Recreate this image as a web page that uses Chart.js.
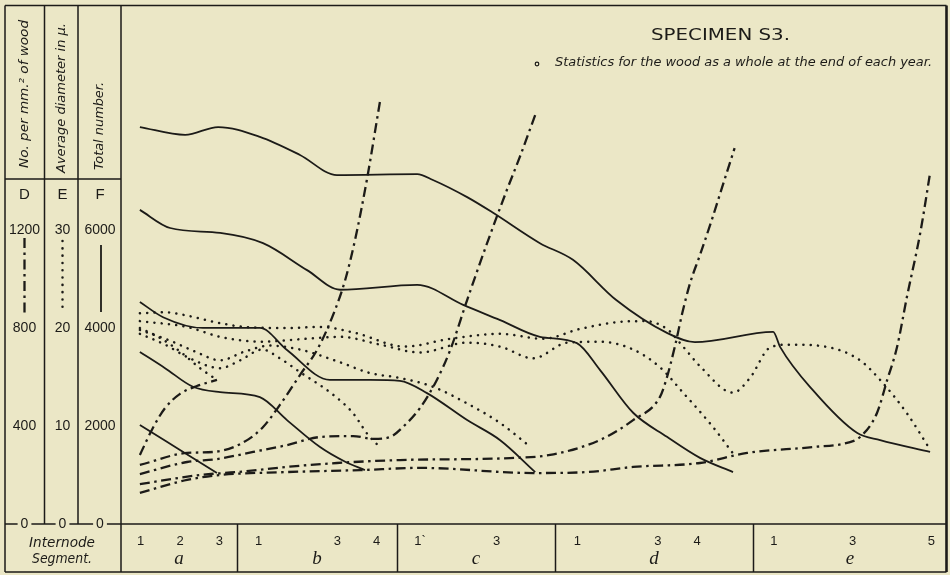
<!DOCTYPE html>
<html>
<head>
<meta charset="utf-8">
<script src="https://cdn.jsdelivr.net/npm/chart.js@4.4.1/dist/chart.umd.min.js"></script>
<style>
  html, body { margin: 0; padding: 0; background: #ebe7c6; }
  canvas { display: block; }
</style>
</head>
<body>
<canvas id="chart" width="950" height="575"></canvas>
<script>
const paper = "#ebe7c6";
const ink = "#1c1b18";

// internode segments along the stem (x in segment units from the base)
const segNames = ["a", "b", "c", "d", "e"];
const segBounds = [0, 2.95, 7.02, 11.03, 16.07, 21];
const nodeTicks = [0.5, 1.5, 2.5, 3.5, 5.5, 6.5, 7.6, 9.55, 11.6, 13.65, 14.65, 16.6, 18.6, 20.6];
const nodeLabels = ["1", "2", "3", "1", "3", "4", "1`", "3", "1", "3", "4", "1", "3", "5"];

// tick values of the three scales
const ticksD = [0, 400, 800, 1200];
const ticksE = [0, 10, 20, 30];
const ticksF = [0, 2000, 4000, 6000];

// F - total number (solid), one line per year
const total1 = [[0.48, 8100], [1.63, 7940], [2.47, 8100], [3.53, 7900], [4.55, 7530], [5.49, 7120], [7.53, 7140], [7.93, 7020], [8.80, 6670], [9.46, 6350], [10.65, 5730], [11.49, 5390], [12.59, 4570], [13.88, 3900], [14.59, 3710], [16.58, 3920], [16.76, 3610], [17.59, 2730], [18.71, 1860], [19.30, 1710], [20.57, 1470]];
const total2 = [[0.48, 6410], [1.25, 6040], [2.52, 5940], [3.61, 5730], [4.73, 5180], [5.57, 4780], [7.53, 4880], [8.70, 4470], [9.64, 4160], [10.65, 3820], [11.59, 3690], [12.18, 3140], [13.02, 2270], [13.88, 1780], [14.72, 1350], [15.56, 1060]];
const total3 = [[0.48, 4530], [1.07, 4220], [2.08, 4000], [3.53, 4000], [4.22, 3550], [5.31, 2940], [6.33, 2940], [7.09, 2920], [7.78, 2670], [8.80, 2120], [9.64, 1710], [10.53, 1060]];
const total4 = [[0.48, 3510], [1.12, 3180], [1.83, 2800], [2.52, 2690], [3.53, 2590], [4.22, 2120], [5.06, 1570], [5.70, 1270], [6.20, 1100]];
const total5 = [[0.48, 2020], [1.50, 1510], [2.44, 1040]];

// E - average diameter in microns (dotted)
const diam1 = [[0.48, 21.5], [1.12, 21.6], [1.75, 21.2], [2.39, 20.6], [3.15, 20.1], [4.17, 20.0], [5.06, 20.1], [5.95, 19.5], [7.22, 18.1], [8.37, 18.9], [9.64, 19.4], [10.73, 18.9], [11.67, 19.9], [12.61, 20.6], [13.32, 20.7], [13.88, 19.9], [14.29, 18.1], [14.72, 16.1], [15.56, 13.4], [15.99, 14.9], [16.50, 18.0], [17.01, 18.3], [18.03, 18.0], [18.79, 16.7], [19.30, 14.7], [19.98, 11.3], [20.57, 7.6]];
const diam2 = [[0.48, 20.7], [1.68, 20.1], [2.52, 19.1], [3.53, 18.6], [4.73, 18.9], [5.57, 19.1], [6.59, 18.3], [7.60, 17.5], [8.80, 18.5], [9.64, 18.1], [10.48, 16.9], [11.34, 18.5], [12.18, 18.6], [13.02, 17.8], [13.70, 16.0], [14.29, 13.4], [15.05, 9.9], [15.56, 7.2]];
const diam3 = [[0.48, 19.8], [1.25, 18.7], [1.88, 17.6], [2.52, 16.7], [3.15, 17.6], [3.79, 18.2], [4.55, 17.8], [5.57, 16.5], [6.33, 15.4], [7.09, 14.9], [7.93, 14.0], [8.80, 12.3], [9.64, 10.3], [10.40, 7.9]];
const diam4 = [[0.48, 19.4], [1.12, 18.3], [1.75, 16.9], [2.52, 15.9], [3.03, 16.7], [3.59, 17.8], [4.04, 16.9], [4.55, 15.5], [5.39, 13.2], [5.90, 11.3], [6.28, 9.1], [6.59, 7.8]];
const diam5 = [[0.48, 20.0], [0.99, 19.0], [1.50, 17.6], [2.01, 15.9], [2.44, 14.7]];

// D - number per sq. mm of wood (dash-dot)
const dens1 = [[0.48, 282], [0.81, 392], [1.12, 473], [1.50, 531], [1.93, 563], [2.44, 588]];
const dens2 = [[0.48, 241], [1.68, 290], [2.34, 294], [3.03, 326], [3.59, 392], [4.04, 486], [4.55, 608], [5.01, 718], [5.44, 873], [5.70, 996], [5.95, 1159], [6.25, 1404], [6.59, 1730]];
const dens3 = [[0.48, 204], [1.68, 253], [2.44, 265], [3.36, 294], [4.22, 322], [5.06, 355], [5.90, 359], [6.41, 347], [6.84, 355], [7.22, 404], [7.60, 473], [8.03, 588], [8.37, 710], [8.80, 914], [9.31, 1147], [9.81, 1363], [10.14, 1498], [10.53, 1669]];
const dens4 = [[0.48, 163], [2.01, 200], [2.95, 212], [4.22, 233], [5.49, 249], [7.09, 261], [9.89, 269], [10.91, 282], [12.18, 343], [13.02, 424], [13.70, 518], [13.86, 588], [14.09, 730], [14.27, 861], [14.47, 984], [14.72, 1098], [15.02, 1241], [15.30, 1383], [15.60, 1534]];
const dens5 = [[0.48, 127], [1.68, 180], [2.52, 200], [4.22, 212], [6.08, 220], [7.60, 229], [10.48, 208], [11.85, 212], [13.02, 233], [14.72, 249], [15.92, 290], [17.59, 314], [18.46, 331], [18.79, 355], [19.22, 453], [19.48, 588], [19.73, 722], [19.98, 926], [20.32, 1188], [20.57, 1432]];

const solid = { borderWidth: 1.8, borderDash: [] };
const dotted = { borderWidth: 2.5, borderDash: [0.1, 7.2], borderCapStyle: "round" };
const dashDot = { borderWidth: 2.3, borderDash: [10, 4.5, 2.5, 4.5], borderCapStyle: "butt" };

function line(points, axis, style) {
    return Object.assign({
        data: points.map((p) => ({ x: p[0], y: p[1] })),
        yAxisID: axis,
        borderColor: ink,
        pointRadius: 0,
        fill: false,
        cubicInterpolationMode: "monotone",
    }, style);
}

// draws text squeezed/stretched to an exact length
function fitText(ctx, text, x, y, width, rot) {
    const w = ctx.measureText(text).width;
    ctx.save();
    ctx.translate(x, y);
    if (rot) ctx.rotate(rot);
    ctx.scale(width / w, 1);
    ctx.textAlign = "left";
    ctx.fillText(text, 0, 0);
    ctx.restore();
}

function vSample(ctx, x, y0, y1, dash, width, cap) {
    ctx.save();
    ctx.lineWidth = width;
    ctx.lineCap = cap;
    ctx.setLineDash(dash);
    ctx.beginPath();
    ctx.moveTo(x, y0);
    ctx.lineTo(x, y1);
    ctx.stroke();
    ctx.restore();
}

const panel = {
    id: "panel",
    beforeDraw(chart) {
        const ctx = chart.ctx;
        ctx.save();
        ctx.fillStyle = paper;
        ctx.fillRect(0, 0, chart.width, chart.height);
        ctx.restore();
    },
    afterDraw(chart) {
        const { ctx, chartArea: a, scales: s } = chart;
        const L = 5, T = 5.5, B = 572, R = 946.5;
        const sep1 = 44.5, sep2 = 78, headY = 179;
        const colD = 24.5, colE = 61.5, colF = 100;

        ctx.save();
        ctx.strokeStyle = ink;
        ctx.fillStyle = ink;

        // frame and rules
        ctx.lineWidth = 1.5;
        ctx.beginPath();
        ctx.moveTo(L, T); ctx.lineTo(R, T);
        ctx.moveTo(L, B); ctx.lineTo(R, B);
        ctx.moveTo(L, T); ctx.lineTo(L, B);
        ctx.moveTo(a.left, T); ctx.lineTo(a.left, B);
        ctx.moveTo(sep1, T); ctx.lineTo(sep1, a.bottom);
        ctx.moveTo(sep2, T); ctx.lineTo(sep2, a.bottom);
        ctx.moveTo(L, headY); ctx.lineTo(a.left, headY);
        ctx.moveTo(L, a.bottom); ctx.lineTo(R, a.bottom);
        segBounds.slice(1, -1).forEach((v) => {
            const x = Math.round(s.x.getPixelForValue(v)) + 0.5;
            ctx.moveTo(x, a.bottom);
            ctx.lineTo(x, B);
        });
        ctx.stroke();
        ctx.lineWidth = 2.6;
        ctx.beginPath();
        ctx.moveTo(R, T); ctx.lineTo(R, B);
        ctx.stroke();

        // column headings
        ctx.font = 'italic 13px "DejaVu Sans"';
        ctx.textBaseline = "middle";
        fitText(ctx, "No. per mm.² of wood", colD, 168, 148, -Math.PI / 2);
        fitText(ctx, "Average diameter in μ.", colE, 173, 150, -Math.PI / 2);
        fitText(ctx, "Total number.", colF, 170, 88, -Math.PI / 2);

        ctx.font = '15px "Liberation Sans"';
        ctx.textAlign = "center";
        ctx.fillText("D", colD, 195);
        ctx.fillText("E", colE + 1, 195);
        ctx.fillText("F", colF, 195);

        // tick labels of the three scales
        ctx.font = '14px "Liberation Sans"';
        [[s.yD, ticksD, colD], [s.yE, ticksE, colE + 1], [s.yF, ticksF, colF]].forEach(([scale, ticks, cx]) => {
            ticks.forEach((v) => {
                const y = scale.getPixelForValue(v);
                const txt = String(v);
                if (v === 0) {
                    const w = ctx.measureText(txt).width;
                    ctx.fillStyle = paper;
                    ctx.fillRect(cx - w / 2 - 3, y - 3, w + 6, 6);
                    ctx.fillStyle = ink;
                }
                ctx.fillText(txt, cx, y);
            });
        });

        // line style keys
        vSample(ctx, colD, 238, 314, dashDot.borderDash, dashDot.borderWidth, "butt");
        vSample(ctx, colE + 1, 241, 310, dotted.borderDash, dotted.borderWidth, "round");
        vSample(ctx, colF + 1, 245, 312, [], solid.borderWidth, "butt");

        // internode segment strip
        ctx.font = 'italic 14px "DejaVu Sans"';
        fitText(ctx, "Internode", 62 - 33, 543, 66);
        fitText(ctx, "Segment.", 62 - 30, 559, 60);

        ctx.font = '13px "Liberation Sans"';
        ctx.textAlign = "center";
        nodeTicks.forEach((v, i) => {
            ctx.fillText(nodeLabels[i], s.x.getPixelForValue(v), 541);
        });
        ctx.font = 'italic 19px "Liberation Serif"';
        segNames.forEach((name, i) => {
            const mid = (segBounds[i] + segBounds[i + 1]) / 2;
            ctx.fillText(name, s.x.getPixelForValue(mid), 559);
        });

        // heading
        ctx.font = '16px "DejaVu Sans"';
        fitText(ctx, "SPECIMEN S3.", 651, 36, 139);
        ctx.font = 'italic 13px "DejaVu Sans"';
        fitText(ctx, "Statistics for the wood as a whole at the end of each year.", 555, 63, 377);
        ctx.lineWidth = 1.2;
        ctx.beginPath();
        ctx.arc(537, 64, 1.8, 0, Math.PI * 2);
        ctx.stroke();

        ctx.restore();
    },
};

new Chart(document.getElementById("chart"), {
    type: "line",
    data: {
        datasets: [
            line(total1, "yF", solid), line(total2, "yF", solid), line(total3, "yF", solid),
            line(total4, "yF", solid), line(total5, "yF", solid),
            line(diam1, "yE", dotted), line(diam2, "yE", dotted), line(diam3, "yE", dotted),
            line(diam4, "yE", dotted), line(diam5, "yE", dotted),
            line(dens1, "yD", dashDot), line(dens2, "yD", dashDot), line(dens3, "yD", dashDot),
            line(dens4, "yD", dashDot), line(dens5, "yD", dashDot),
        ],
    },
    options: {
        responsive: false,
        animation: false,
        devicePixelRatio: 1,
        layout: { padding: { left: 121, top: 6, right: 3, bottom: 51 } },
        plugins: { legend: { display: false }, tooltip: { enabled: false } },
        scales: {
            x: { type: "linear", min: 0, max: 21, display: false },
            yF: { type: "linear", min: 0, max: 10570, display: false },
            yE: { type: "linear", min: 0, max: 52.85, display: false },
            yD: { type: "linear", min: 0, max: 2114, display: false },
        },
    },
    plugins: [panel],
});
</script>
</body>
</html>
